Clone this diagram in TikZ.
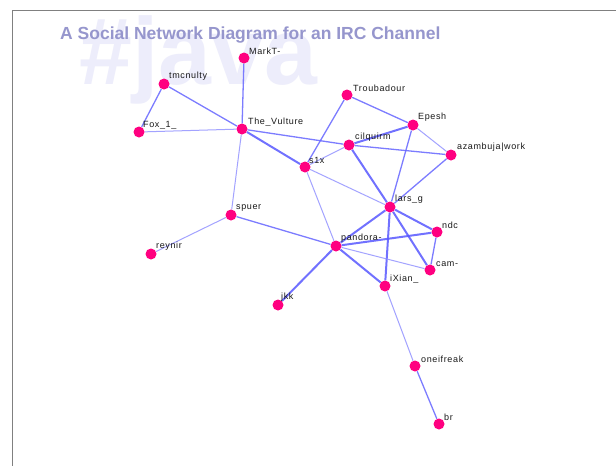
\documentclass[tikz,border=0pt]{standalone}
\usepackage{fontspec}
\setmainfont{Liberation Sans}
\pgfdeclarelayer{back}
\pgfdeclarelayer{bg}
\pgfsetlayers{back,bg,main}
\definecolor{nodepink}{RGB}{255,0,128}
\begin{document}
\begin{tikzpicture}[x=1pt,y=-1pt,
  person/.style={circle,fill=nodepink,minimum size=11pt,inner sep=0pt},
  who/.style={font=\fontsize{9}{10}\selectfont\addfontfeature{LetterSpace=7},text=black!90,anchor=south west,inner sep=0pt},
  tie/.style={draw=blue!60!white,line width=1.3pt,opacity=0.85},
  weak/.style={draw=blue!45!white,line width=1pt,opacity=0.8},
  strong/.style={draw=blue!65!white,line width=2pt,opacity=0.85}]
\useasboundingbox (0,0) rectangle (616,466);
\begin{pgfonlayer}{back}
\fill[white] (0,0) rectangle (616,466);
\draw[gray,line width=1pt] (12,466) -- (12,10.5) -- (616,10.5);
\node[anchor=base west,inner sep=0pt,text={rgb,255:red,237;green,237;blue,251},font=\fontsize{95}{95}\selectfont\bfseries] (wm) at (79,84) {\#java};
\end{pgfonlayer}
\node[anchor=base west,inner sep=0pt,text={rgb,255:red,150;green,150;blue,205},font=\fontsize{17.5}{18}\selectfont\bfseries] (title) at (60,39) {A Social Network Diagram for an IRC Channel};
% nodes
\node[person] (markt) at (244,58) {};
\node[person] (tmc) at (164,84) {};
\node[person] (fox) at (139,132) {};
\node[person] (vul) at (242,129) {};
\node[person] (trou) at (347,95) {};
\node[person] (epesh) at (413,125) {};
\node[person] (cil) at (349,145) {};
\node[person] (aza) at (451,155) {};
\node[person] (s1x) at (305,167) {};
\node[person] (lars) at (390,207) {};
\node[person] (spuer) at (231,215) {};
\node[person] (ndc) at (437,232) {};
\node[person] (reynir) at (151,254) {};
\node[person] (pan) at (336,246) {};
\node[person] (cam) at (430,270) {};
\node[person] (ixian) at (385,286) {};
\node[person] (jkk) at (278,305) {};
\node[person] (one) at (415,366) {};
\node[person] (br) at (439,424) {};
% edges
\begin{pgfonlayer}{bg}
\path[tie] (markt) -- (vul);
\path[tie] (tmc) -- (fox);
\path[tie] (tmc) -- (vul);
\path[weak] (fox) -- (vul);
\path[strong] (vul) -- (s1x);
\path[tie] (vul) -- (cil);
\path[weak] (vul) -- (spuer);
\path[tie] (trou) -- (s1x);
\path[tie] (trou) -- (epesh);
\path[strong] (epesh) -- (cil);
\path[weak] (epesh) -- (aza);
\path[tie] (epesh) -- (lars);
\path[weak] (cil) -- (s1x);
\path[tie] (cil) -- (aza);
\path[strong] (cil) -- (lars);
\path[tie] (aza) -- (lars);
\path[weak] (s1x) -- (lars);
\path[weak] (s1x) -- (pan);
\path[weak] (spuer) -- (reynir);
\path[tie] (spuer) -- (pan);
\path[strong] (lars) -- (pan);
\path[strong] (lars) -- (ndc);
\path[strong] (lars) -- (cam);
\path[strong] (lars) -- (ixian);
\path[strong] (pan) -- (ndc);
\path[weak] (pan) -- (cam);
\path[strong] (pan) -- (ixian);
\path[strong] (pan) -- (jkk);
\path[tie] (ndc) -- (cam);
\path[weak] (ixian) -- (one);
\path[tie] (one) -- (br);
\end{pgfonlayer}
% labels
\node[who] (lmarkt) at ([xshift=5pt,yshift=3pt]markt.center) {MarkT-};
\node[who] (ltmc) at ([xshift=5pt,yshift=3pt]tmc.center) {tmcnulty};
\node[who] (lfox) at ([xshift=4pt,yshift=3pt]fox.center) {Fox\_1\_};
\node[who] (lvul) at ([xshift=6pt,yshift=3pt]vul.center) {The\_Vulture};
\node[who] (ltrou) at ([xshift=6pt,yshift=3pt]trou.center) {Troubadour};
\node[who] (lepesh) at ([xshift=5pt,yshift=3pt]epesh.center) {Epesh};
\node[who] (lcil) at ([xshift=6pt,yshift=3pt]cil.center) {cilquirm};
\node[who] (laza) at ([xshift=6pt,yshift=3pt]aza.center) {azambuja|work};
\node[who] (ls1x) at ([xshift=4pt,yshift=3pt]s1x.center) {s1x};
\node[who] (llars) at ([xshift=5pt,yshift=3pt]lars.center) {lars\_g};
\node[who] (lspuer) at ([xshift=5pt,yshift=3pt]spuer.center) {spuer};
\node[who] (lndc) at ([xshift=5pt,yshift=3pt]ndc.center) {ndc};
\node[who] (lreynir) at ([xshift=5pt,yshift=3pt]reynir.center) {reynir};
\node[who] (lpan) at ([xshift=5pt,yshift=3pt]pan.center) {pandora-};
\node[who] (lcam) at ([xshift=6pt,yshift=3pt]cam.center) {cam-};
\node[who] (lixian) at ([xshift=5pt,yshift=3pt]ixian.center) {iXian\_};
\node[who] (ljkk) at ([xshift=3pt,yshift=3pt]jkk.center) {jkk};
\node[who] (lone) at ([xshift=6pt,yshift=3pt]one.center) {oneifreak};
\node[who] (lbr) at ([xshift=5pt,yshift=3pt]br.center) {br};
\end{tikzpicture}
\end{document}
